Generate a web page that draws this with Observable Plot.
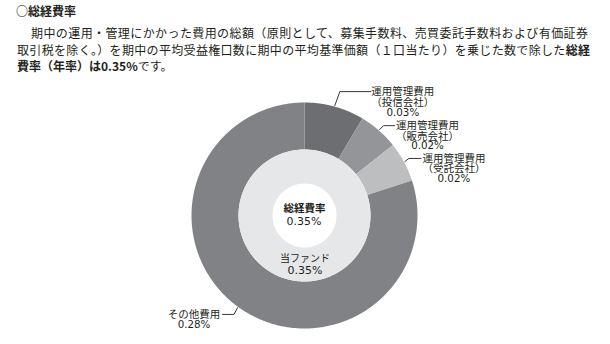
<!DOCTYPE html>
<html>
<head>
<meta charset="utf-8">
<script src="https://cdn.jsdelivr.net/npm/d3@7"></script>
<script src="https://cdn.jsdelivr.net/npm/@observablehq/plot@0.6"></script>
<style>
  html, body { margin: 0; padding: 0; background: #fff; }
  body { width: 610px; height: 344px; position: relative; overflow: hidden;
         font-family: "Noto Sans CJK JP", "Noto Sans", sans-serif; color: #231f20; }
  .t { position: absolute; font-size: 12px; line-height: 17px; white-space: nowrap; }
  .j { text-align: justify; text-align-last: justify; }
  b { font-weight: bold; }
  #chart { position: absolute; left: 0; top: 80px; }
</style>
</head>
<body>
<div class="t" style="left:16px;top:2px;"><b>○総経費率</b></div>
<div class="t j" style="left:31px;top:23.5px;width:557px;">期中の運用・管理にかかった費用の総額（原則として、募集手数料、売買委託手数料および有価証券</div>
<div class="t j" style="left:17px;top:40.5px;width:573px;">取引税を除く。）を期中の平均受益権口数に期中の平均基準価額（１口当たり）を乗じた数で除した<b>総経</b></div>
<div class="t" style="left:17px;top:56.5px;"><b>費率（年率）は0.35%</b>です。</div>
<div id="chart"></div>
<script>
// ---- data ----
const categories = ["運用管理費用\n（投信会社）", "運用管理費用\n（販売会社）", "運用管理費用\n（受託会社）", "その他費用"];
const values = [0.03, 0.02, 0.02, 0.28];
const innerCategory = "当ファンド";
const innerValue = 0.35;
const totalLabel = "総経費率";
const totalValue = 0.35;
const colors = ["#6d6e71", "#939598", "#bcbec0", "#808285", "#e6e7e8"];

// ---- geometry / layout ----
const R_OUT = 113, R_MID = 66, R_IN = 32;
const fmt = v => v.toFixed(2) + "%";
const polar = (r, a) => ({x: r * Math.sin(a), y: r * Math.cos(a)});

const pie = d3.pie().sort(null).value(d => d.value).startAngle(0).endAngle(2 * Math.PI);
const rows = categories.map((c, i) => ({key: c, value: values[i]}));
const arcs = pie(rows);

function annulus(key, a0, a1, r0, r1) {
  const n = Math.max(2, Math.ceil((a1 - a0) / 0.01));
  const pts = [];
  for (let k = 0; k <= n; k++) { const a = a0 + (a1 - a0) * k / n; pts.push({key, ...polar(r1, a)}); }
  for (let k = n; k >= 0; k--) { const a = a0 + (a1 - a0) * k / n; pts.push({key, ...polar(r0, a)}); }
  return pts;
}

const slicePts = arcs.flatMap(a => annulus(a.data.key, a.startAngle, a.endAngle, R_MID, R_OUT));
const innerArc = d3.pie().value(d => d)([innerValue])[0];
const innerPts = annulus(innerCategory, innerArc.startAngle, innerArc.endAngle, R_IN, R_MID);

// leader layout (screen px offsets: elbow dx, dy; horizontal run; text offsets)
const leaderLayout = [
  {elbow: [5, -14], run: 31, tdx: 32, vdy: 21.4},
  {elbow: [4, -4], run: 11, tdx: 33, vdy: 20},
  {elbow: [4, -3], run: 12, tdx: 33, vdy: 20.7},
  {elbow: [-3.5, 6.7], run: -11.5, tdx: -28.5, vdy: 10.3}
];
const LINE = 10.6;
const leaderPts = [];
const nameRows = [];
const valueRows = [];
arcs.forEach((a, i) => {
  const L = leaderLayout[i];
  const mid = (a.startAngle + a.endAngle) / 2;
  const s = polar(R_OUT + 1, mid);
  const e = {x: s.x + L.elbow[0], y: s.y - L.elbow[1]};
  const h = {x: e.x + L.run, y: e.y};
  leaderPts.push({key: a.data.key, ...s}, {key: a.data.key, ...e}, {key: a.data.key, ...h});
  a.data.key.split("\n").forEach((line, j) => nameRows.push({text: line, x: h.x + L.tdx, y: h.y - j * LINE}));
  valueRows.push({text: fmt(a.data.value), x: h.x + L.tdx, y: h.y - L.vdy});
});

const innerMid = polar((R_IN + R_MID) / 2, Math.PI);
const innerName = [{text: innerCategory, x: innerMid.x + 0.5, y: innerMid.y + 5.5}];
const innerVal = [{text: fmt(innerValue), x: innerMid.x + 0.5, y: innerMid.y - 5.5}];
const centerTitle = [{text: totalLabel, x: 0, y: 7.2}];
const centerValue = [{text: fmt(totalValue), x: -0.5, y: -6.4}];

const font = "'Noto Sans CJK JP', 'Noto Sans', sans-serif";
const numFont = "'DejaVu Sans', sans-serif";
const ink = "#231f20";
const chart = Plot.plot({
  width: 610,
  height: 264,
  margin: 0,
  style: {background: "transparent", fontFamily: font},
  x: {domain: [-304, 306], axis: null},
  y: {domain: [-129, 135], axis: null},
  color: {domain: [...categories, innerCategory], range: colors},
  marks: [
    Plot.line(slicePts, {x: "x", y: "y", z: "key", fill: "key", stroke: "none"}),
    Plot.line(innerPts, {x: "x", y: "y", z: "key", fill: "key", stroke: "none"}),
    Plot.line(leaderPts, {x: "x", y: "y", z: "key", stroke: ink, strokeWidth: 0.9}),
    Plot.text(nameRows, {x: "x", y: "y", text: "text", fontSize: 10.5, fill: ink}),
    Plot.text(valueRows, {x: "x", y: "y", text: "text", fontSize: 10.3, fontFamily: numFont, fill: ink}),
    Plot.text(innerName, {x: "x", y: "y", text: "text", fontSize: 10, fill: ink}),
    Plot.text(innerVal, {x: "x", y: "y", text: "text", fontSize: 11, fontFamily: numFont, fill: ink}),
    Plot.text(centerTitle, {x: "x", y: "y", text: "text", fontSize: 10.5, fontWeight: "bold", fill: ink}),
    Plot.text(centerValue, {x: "x", y: "y", text: "text", fontSize: 11, fontFamily: numFont, fill: ink})
  ]
});
document.getElementById("chart").appendChild(chart);
</script>
</body>
</html>
